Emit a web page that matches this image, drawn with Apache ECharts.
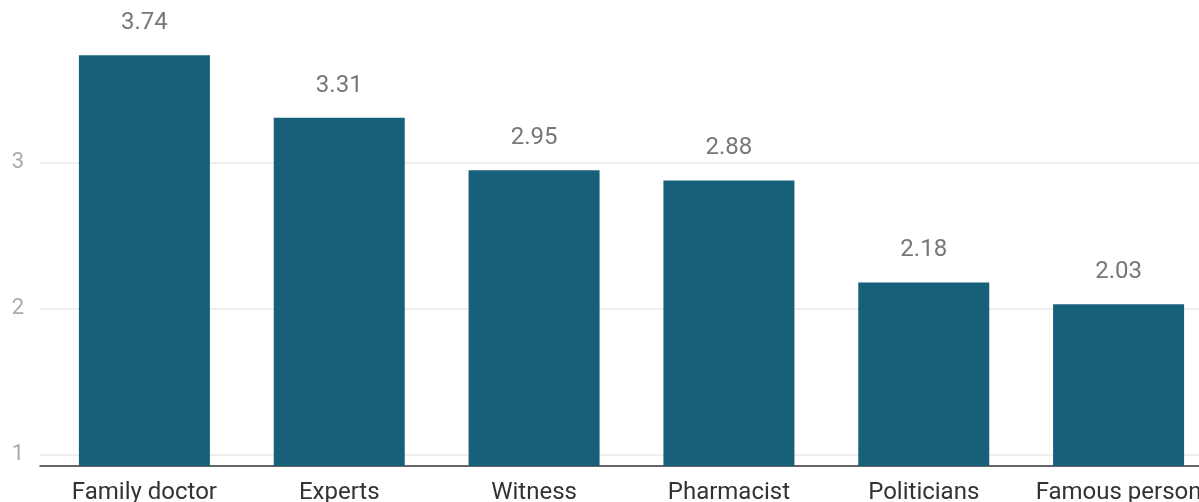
<!DOCTYPE html>
<html><head><meta charset="utf-8">
<script src="https://cdn.jsdelivr.net/npm/echarts@6/dist/echarts.min.js"></script>
<style>html,body{margin:0;padding:0;background:#fff}#c{width:1199px;height:502px}</style>
</head><body><div id="c"></div>
<script>
const categories = ['Family doctor','Experts','Witness','Pharmacist','Politicians','Famous person'];
const values = [3.74, 3.31, 2.95, 2.88, 2.18, 2.03];
const yTicks = [1, 2, 3];
const yMin = 0.92, yMax = 4.05;

const chart = echarts.init(document.getElementById('c'));
chart.setOption({
  animation: false,
  textStyle: {fontFamily: 'Roboto'},
  grid: [
    {left: 40, right: -20, top: 10, bottom: 36, outerBoundsMode: 'none'},
    {left: 47, width: 1169, top: 10, bottom: 36, outerBoundsMode: 'none'}
  ],
  xAxis: [
    {type: 'value', gridIndex: 0, min: 0, max: 1, show: true,
     axisLine: {show: true, onZero: false, lineStyle: {color: '#333', width: 1.5}},
     axisTick: {show: false}, axisLabel: {show: false}, splitLine: {show: false}},
    {type: 'category', gridIndex: 1, data: categories,
     axisLine: {show: false}, axisTick: {show: false},
     axisLabel: {color: '#333', fontSize: 24, margin: 15, interval: 0}}
  ],
  yAxis: [
    {type: 'value', gridIndex: 0, min: yMin, max: yMax,
     axisLine: {show: false},
     axisTick: {show: false, customValues: yTicks},
     axisLabel: {customValues: yTicks, color: '#aaa', fontSize: 22, margin: 16},
     splitLine: {show: true, lineStyle: {color: '#e8e8e8', width: 1.5}}},
    {type: 'value', gridIndex: 1, min: yMin, max: yMax, show: false,
     splitLine: {show: false}}
  ],
  series: [{
    type: 'bar', xAxisIndex: 1, yAxisIndex: 1, data: values,
    barWidth: 131,
    itemStyle: {color: '#17607a'},
    label: {show: true, position: 'top', distance: 20, color: '#777', fontSize: 24,
      formatter: p => p.value.toFixed(2)}
  }]
});
</script></body></html>
